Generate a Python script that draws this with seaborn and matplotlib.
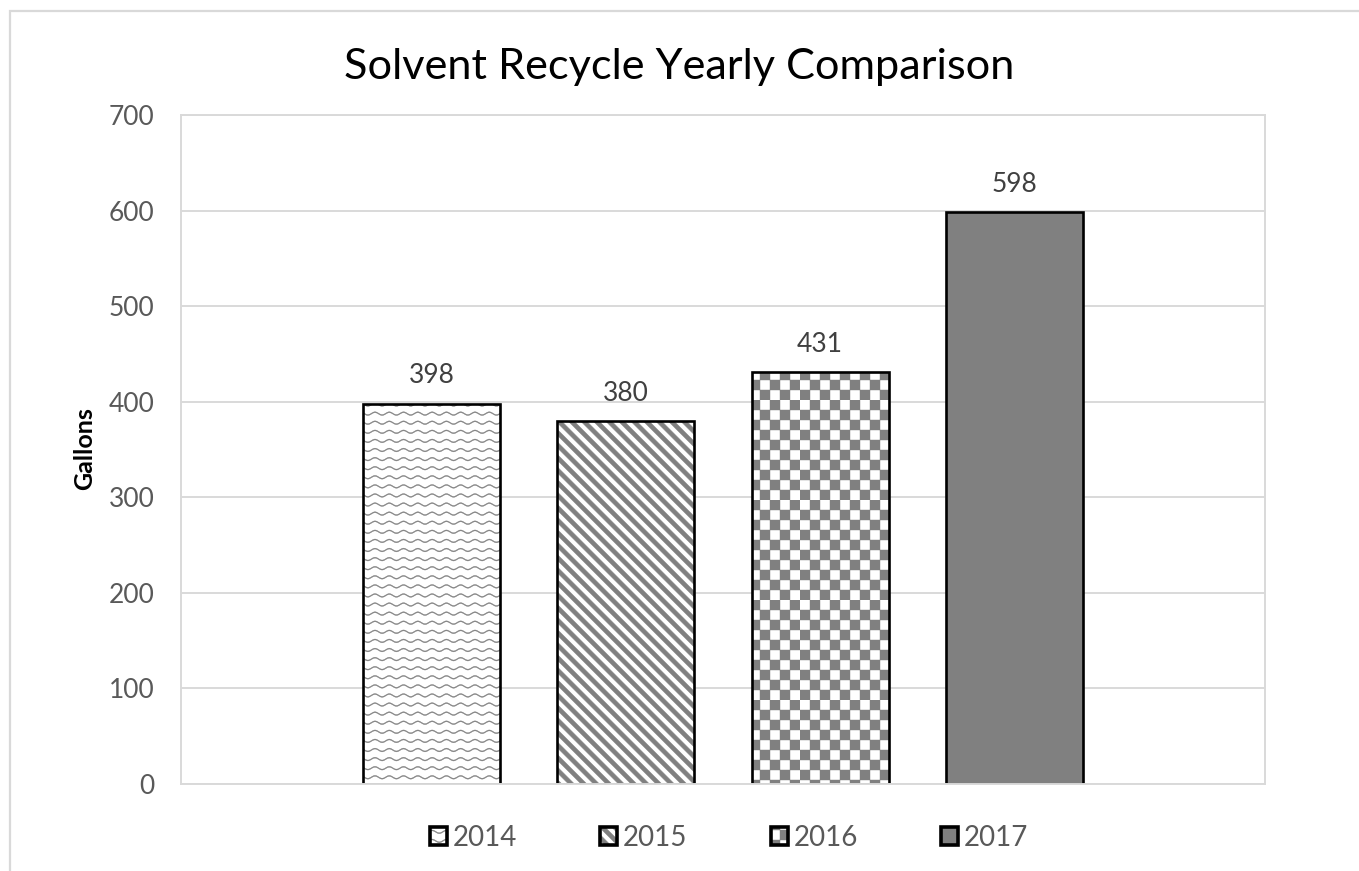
import warnings
import numpy as np
import pandas as pd
import matplotlib
matplotlib.use("Agg")
import matplotlib.pyplot as plt
import matplotlib.hatch as mhatch
from matplotlib.path import Path
from matplotlib.patches import Patch, Rectangle
from matplotlib.legend_handler import HandlerTuple
import seaborn as sns

warnings.filterwarnings("ignore", message="hatch must consist")

# ---- data -------------------------------------------------------------
years = ["2014", "2015", "2016", "2017"]
gallons = [398, 380, 431, 598]
y_ticks = [0, 100, 200, 300, 400, 500, 600, 700]
title = "Solvent Recycle Yearly Comparison"
y_label = "Gallons"

# ---- custom fill patterns (wave, diagonal stripes, checkerboard) -----
class PolygonHatch(mhatch.HatchPatternBase):
    symbol = ""

    def __init__(self, hatch, density):
        self.polygons = self.build() if (hatch and self.symbol in hatch) else []
        self.num_vertices = sum(len(p) + 1 for p in self.polygons)

    def build(self):
        return []

    def set_vertices_and_codes(self, vertices, codes):
        i = 0
        for p in self.polygons:
            p = np.asarray(p, float)
            n = len(p)
            vertices[i:i + n] = p
            vertices[i + n] = p[0]
            codes[i] = Path.MOVETO
            codes[i + 1:i + n] = Path.LINETO
            codes[i + n] = Path.CLOSEPOLY
            i += n + 1


class WaveHatch(PolygonHatch):
    symbol = "~"

    def build(self, rows=11, periods=7, amp=0.014, thick=0.009):
        x = np.linspace(-0.02, 1.02, 240)
        polys = []
        for r in range(rows):
            y0 = (r + 0.5) / rows
            yc = y0 + amp * np.sin(2 * np.pi * periods * x)
            top = np.column_stack([x, yc + thick / 2])
            bot = np.column_stack([x[::-1], yc[::-1] - thick / 2])
            polys.append(np.vstack([top, bot]))
        return polys


class StripeHatch(PolygonHatch):
    symbol = "z"

    def build(self, n=8, frac=0.48):
        step = 1.0 / n
        half = frac * step / 2
        polys = []
        for k in range(-1, 2 * n + 2):
            c1, c2 = k * step - half, k * step + half
            polys.append([(-0.1, c1 + 0.1), (1.1, c1 - 1.1),
                          (1.1, c2 - 1.1), (-0.1, c2 + 0.1)])
        return polys


class CheckerHatch(PolygonHatch):
    symbol = "#"

    def build(self, n=10):
        s = 1.0 / n
        polys = []
        for i in range(n):
            for j in range(n):
                if (i + j) % 2 == 0:
                    polys.append([(i * s, j * s), ((i + 1) * s, j * s),
                                  ((i + 1) * s, (j + 1) * s), (i * s, (j + 1) * s)])
        return polys


mhatch._hatch_types.extend([WaveHatch, StripeHatch, CheckerHatch])

# ---- style ------------------------------------------------------------
sns.set_style("white")
plt.rcParams["font.family"] = ["Lato", "DejaVu Sans"]
plt.rcParams["hatch.linewidth"] = 0.3

GRID = "#d9d9d9"
TICK = "#595959"
PATTERN_GRAY = "#808080"

face_colors = ["white", "white", "white", "#808080"]
hatches = ["~", "z", "#", None]

df = pd.DataFrame({"year": years, "gallons": gallons})

W, H = 1359, 871
fig = plt.figure(figsize=(W / 100, H / 100), dpi=100)
ax = fig.add_axes([181 / W, 1 - 784 / H, (1265 - 181) / W, (784 - 115) / H])

# patterned fill layer
sns.barplot(data=df, x="year", y="gallons", hue="year", order=years,
            hue_order=years, palette=face_colors, edgecolor=PATTERN_GRAY,
            linewidth=0, width=0.705, legend=False, ax=ax, saturation=1)
for bar, h in zip(ax.patches, hatches):
    if h:
        bar.set_hatch(h)

# black outline layer
sns.barplot(data=df, x="year", y="gallons", order=years, color="black",
            fill=False, linewidth=1.9, width=0.705, ax=ax, errorbar=None)

ax.set_xlim(-1.29, 4.29)
ax.set_ylim(0, 700)
ax.set_yticks(y_ticks)
ax.set_xticks([])
ax.set_xlabel("")
ax.set_ylabel("")
ax.yaxis.grid(True, color=GRID, linewidth=1.4)
ax.set_axisbelow(True)
for sp in ax.spines.values():
    sp.set_color(GRID)
    sp.set_linewidth(1.4)
ax.tick_params(axis="y", length=0, pad=19, labelsize=19, labelcolor=TICK)

# value labels
for cont in ax.containers[:len(years)]:
    ax.bar_label(cont, labels=[f"{int(v)}" for v in cont.datavalues],
                 padding=11, fontsize=19, color="#404040")

# title, axis title
t = fig.text(0.5, 1 - 67 / H, title, ha="center", va="center",
             fontsize=26, color="black")
fig.canvas.draw()
tw = t.get_window_extent(fig.canvas.get_renderer()).width
t.set_fontsize(26 * 670 / tw)

fig.text(85 / W, 1 - 449 / H, y_label, rotation=90, ha="center", va="center",
         fontsize=18, fontweight="bold", color="black")

# legend
handles = []
for fc, h in zip(face_colors, hatches):
    fill = Patch(facecolor=fc, edgecolor=PATTERN_GRAY, linewidth=0, hatch=h)
    edge = Patch(facecolor="none", edgecolor="black", linewidth=2.6)
    handles.append((fill, edge))
fig.legend(handles, years, loc="center", bbox_to_anchor=(729 / W, 1 - 838 / H),
           ncol=4, frameon=False, handlelength=0.62, handleheight=0.62,
           handletextpad=0.2, columnspacing=3.0, fontsize=20,
           labelcolor=TICK,
           handler_map={tuple: HandlerTuple(ndivide=1, pad=0)})

# chart frame
fig.add_artist(Rectangle((9.5 / W, -0.1), 1.2, 1.1 - 11.5 / H,
                         transform=fig.transFigure, fill=False,
                         edgecolor=GRID, linewidth=1.6))

fig.savefig("out.png", dpi=100, facecolor="white")
